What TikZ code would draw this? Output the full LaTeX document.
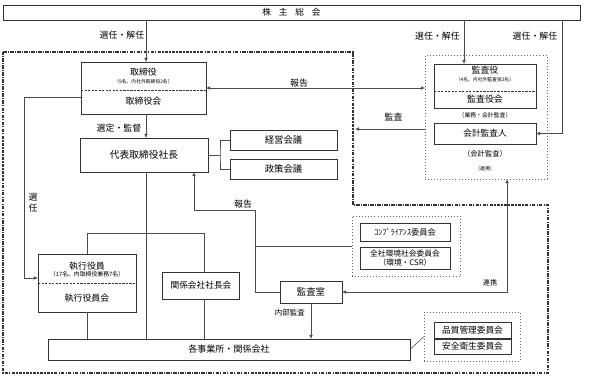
\documentclass[tikz,border=0pt]{standalone}
\usepackage{fontspec}
\setmainfont{Noto Sans CJK JP}
\usetikzlibrary{arrows.meta,calc}
\tikzset{
  box/.style={draw=black!80, line width=0.6pt, inner sep=0pt, outer sep=0pt, font=\fontsize{7.4}{8}\selectfont},
  wh/.style 2 args={minimum width=#1*0.3mm, minimum height=#2*0.3mm},
  grp/.style={draw=black!60, dotted, line width=0.6pt, inner sep=0pt, outer sep=0pt},
  lbl/.style={inner sep=0pt, font=\fontsize{7.6}{8}\selectfont},
  note/.style={inner sep=0pt, font=\fontsize{4.1}{5}\selectfont},
  conn/.style={draw=black!70, line width=0.5pt},
  arr/.style={conn, -{Latex[length=3.5pt,width=3pt]}},
  arrs/.style={conn, {Latex[length=3.5pt,width=3pt]}-{Latex[length=3.5pt,width=3pt]}},
  div/.style={draw=black!80, line width=0.5pt, dash pattern=on 2pt off 1pt},
  bigframe/.style={draw=black!80, line width=0.9pt, dash pattern=on 3pt off 1pt on 1pt off 1pt}
}
\begin{document}
\begin{tikzpicture}[x=0.3mm, y=-0.3mm]
\useasboundingbox (0,0) rectangle (591,381);
% company frame:
\draw[bigframe] (3,52) -- (353,52) -- (353,205) -- (548,205) -- (548,373) -- (3,373) -- cycle;
% general meeting:
\node[box, wh={577}{15}] (soukai) at (291.5,12.5) {株\hspace{0.9em}主\hspace{0.9em}総\hspace{0.9em}会};
% board:
\node[box, wh={125}{52}] (tori) at (143.5,88) {};
\node[lbl] (toriT) at (143.5,72) {取締役};
\node[note] (toriN) at (143.5,82) {（9名、内社外取締役2名）};
\draw[div] ($(tori.north west)+(0,28)$) -- ($(tori.north east)+(0,28)$);
\node[lbl] (toriK) at (143.5,101) {取締役会};
% auditors:
\node[grp, wh={122}{124}] (kgrp) at (486,117) {};
\node[box, wh={102}{44}] (kansa) at (485,86) {};
\node[lbl] (kansaT) at (485,70) {監査役};
\node[note] (kansaN) at (485,80) {（4名、内社外監査役2名）};
\draw[div] ($(kansa.north west)+(0,27)$) -- ($(kansa.north east)+(0,27)$);
\node[lbl] (kansaK) at (485,99) {監査役会};
\node[note, font=\fontsize{5}{6}\selectfont] (gyomu) at (485,115) {（業務・会計監査）};
\node[box, wh={102}{21}] (kaikei) at (485,133.5) {会計監査人};
\node[lbl, font=\fontsize{6.2}{7}\selectfont] (kaikeiK) at (485,154) {（会計監査）};
\node[note] (renkeiA) at (485,169) {（連携）};
% president:
\node[box, wh={128}{34}, font=\fontsize{8.3}{9}\selectfont] (daihyo) at (144,155) {代表取締役社長};
\node[box, wh={107}{20}, font=\fontsize{8}{9}\selectfont] (keiei) at (283.5,140) {経営会議};
\node[box, wh={107}{20}, font=\fontsize{8}{9}\selectfont] (seisaku) at (283.5,169) {政策会議};
% executive officers:
\node[box, wh={98}{58}] (shikko) at (87,283) {};
\node[lbl] (shikkoT) at (87,266) {執行役員};
\node[note, font=\fontsize{5}{6}\selectfont] (shikkoN) at (87,274.5) {（17名、内取締役兼務7名）};
\draw[div] ($(shikko.north west)+(0,29)$) -- ($(shikko.north east)+(0,29)$);
\node[lbl] (shikkoK) at (87,298) {執行役員会};
\node[box, wh={77}{27}] (kankei) at (201,285.5) {関係会社社長会};
\node[box, wh={62}{22}, font=\fontsize{8}{9}\selectfont] (shitsu) at (311,292) {監査室};
% committees:
\node[grp, wh={108}{60}] (cgrp) at (406,246) {};
\node[box, wh={90}{18}, font=\fontsize{7}{8}\selectfont] (compl) at (405,232) {ｺﾝﾌﾟﾗｲｱﾝｽ委員会};
\node[box, wh={90}{22}, align=center, font=\fontsize{6.6}{7.4}\selectfont] (kankyo) at (405,258) {全社環境社会委員会\\（環境・CSR）};
% offices:
\node[box, wh={362}{21}, line width=0.8pt, font=\fontsize{7.7}{9}\selectfont] (jigyo) at (229,349.5) {各事業所・関係会社};
\node[grp, wh={96}{49}] (qgrp) at (472,336.5) {};
\node[box, wh={77}{16}] (hin) at (472.5,330) {品質管理委員会};
\node[box, wh={77}{15}] (anzen) at (472.5,346.5) {安全衛生委員会};
% appointments:
\coordinate (spine) at (146,0);
\coordinate (kx) at (464,0);
\coordinate (kx2) at (562,0);
\draw[arr] (soukai.south -| spine) -- (tori.north -| spine);
\node[lbl] (sen1) at (122,35) {選任・解任};
\draw[arr] (soukai.south -| kx) -- (kansa.north -| kx);
\node[lbl] (sen2) at (437.5,36) {選任・解任};
\draw[arr] (soukai.south -| kx2) |- (kaikei.east);
\node[lbl] (sen3) at (535,36) {選任・解任};
% report / audit:
\draw[arrs] (tori.east) -- (tori.east -| kgrp.west);
\node[lbl] (hok1) at (299,83) {報告};
\coordinate (edge) at (355,129);
\draw[arr] (kgrp.west |- edge) -- (edge);
\node[lbl] (kan1) at (393.5,117) {監査};
\draw[arr] (tori.south -| spine) -- (daihyo.north -| spine);
\node[lbl] (sentei) at (119,128) {選定・監督};
\draw[arr] ($(tori.west)+(0,9)$) -| ($(shikko.west)+(-14,-5)$) -- ($(shikko.west)+(0,-5)$);
\node[lbl, align=center, font=\fontsize{7.6}{9.4}\selectfont] (sen4) at (33,202.5) {選\\任};
% meetings:
\coordinate (br) at ($(daihyo.east)+(12,0)$);
\draw[conn] (daihyo.east) -- (br);
\draw[conn] (keiei.west) -| (br) |- (seisaku.west);
\draw[conn] (daihyo.south -| spine) -- (jigyo.north -| spine);
% internal audit:
\coordinate (rep) at (255,210);
\coordinate (repx) at (194,0);
\draw[arr] (shitsu.west) -| (rep) -| (daihyo.south -| repx);
\draw[conn] (cgrp.west) -- (cgrp.west -| rep);
\node[lbl] (hok2) at (243,204) {報告};
\coordinate (lx) at (507,0);
\draw[arrs] (kgrp.south -| lx) |- (shitsu.east);
\node[lbl, font=\fontsize{6}{7}\selectfont] (renkeiB) at (490,283) {連携};
\draw[arr] (shitsu.south) -- (shitsu.south |- jigyo.north);
\node[lbl, anchor=east, font=\fontsize{6.4}{7}\selectfont] (naibu) at (305,313) {内部監査};
% lower tree:
\coordinate (grp) at (204,233);
\draw[conn] (shikko.north) |- (grp) -- (kankei.north -| grp);
\draw[conn] (shikko.south) -- (shikko.south |- jigyo.north);
\draw[conn] (kankei.south -| grp) -- (jigyo.north -| grp);
\draw[conn] (jigyo.east) -- (qgrp.west);
\end{tikzpicture}
\end{document}
